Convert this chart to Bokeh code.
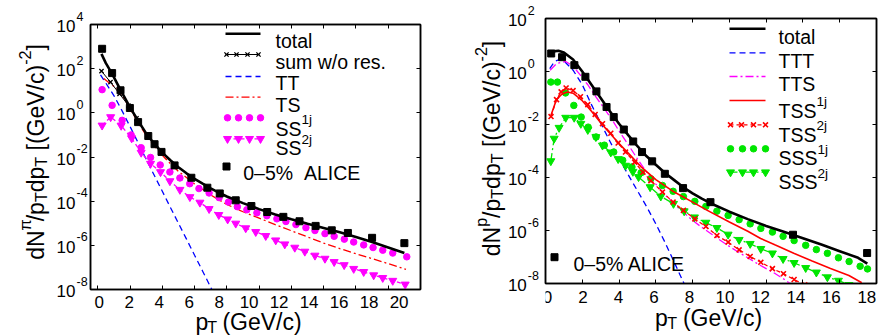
import math
from bokeh.plotting import figure
from bokeh.models import Label, FixedTicker, LinearAxis, LogAxis, Range1d, CustomJSTickFormatter
from bokeh.layouts import row, column
from bokeh.embed import file_html
from bokeh.resources import INLINE

FONT = "Liberation Sans"

# ------------------------------------------------------------------
# DATA (y values stored as log10)
# ------------------------------------------------------------------
# ---- pion panel ----
pi_alice_pt = [0.27, 0.89, 1.41, 1.99, 2.5, 3.13, 3.52, 3.95, 4.76, 5.8, 6.79, 7.56, 8.55,
               9.52, 10.5, 11.5, 12.5, 13.5, 14.5, 15.5, 17.0, 19.0]
pi_alice_log = [2.9, 1.8, 1.02, 0.22, -0.42, -1.05, -1.42, -1.77, -2.38, -2.94, -3.39, -3.65,
                -3.96, -4.22, -4.49, -4.71, -4.91, -5.12, -5.32, -5.44, -5.66, -5.9]

pi_total_pt = [0.23, 0.5, 0.9, 1.4, 2.0, 2.5, 3.0, 3.5, 4.0, 4.5, 5.0, 5.5, 6.0, 6.5, 7.0, 7.5,
               8.0, 9.0, 10.0, 11.0, 12.0, 13.0, 14.0, 15.0, 16.0, 17.0, 18.0, 19.0]
pi_total_log = [2.67, 2.25, 1.75, 1.05, 0.25, -0.36, -0.93, -1.4, -1.8, -2.15, -2.46, -2.74,
                -2.99, -3.21, -3.42, -3.61, -3.79, -4.09, -4.36, -4.6, -4.82, -5.02, -5.21,
                -5.41, -5.62, -5.85, -6.1, -6.35]

pi_nores_pt = [0.23, 0.79, 1.35, 1.9, 2.4]
pi_nores_log = [1.89, 1.39, 0.86, 0.33, -0.25]

pi_tt_pt = [0.17, 0.5, 1.0, 1.5, 2.0, 2.5, 3.0, 3.5, 4.0, 4.5, 5.0, 5.5, 6.0, 6.5, 7.0, 7.3]
pi_tt_log = [1.72, 1.35, 0.78, 0.1, -0.62, -1.35, -2.1, -2.83, -3.55, -4.28, -5.0, -5.72,
             -6.45, -7.17, -7.9, -8.35]

pi_ts_pt = [0.37, 0.8, 1.2, 1.5, 2.0, 2.5, 3.0, 3.5, 4.0, 4.5, 5.0, 6.0, 7.0, 8.0, 9.0, 10.0,
            11.0, 12.0, 13.0, 14.0, 15.0, 16.0, 17.0, 18.0, 19.1]
pi_ts_log = [1.55, 1.3, 1.1, 0.82, 0.2, -0.45, -1.02, -1.5, -1.92, -2.3, -2.65, -3.22, -3.72,
             -4.15, -4.48, -4.77, -5.06, -5.34, -5.62, -5.9, -6.15, -6.38, -6.6, -6.83, -7.09]

pi_ss1_pt = [0.27, 0.89, 1.51, 2.07, 2.69, 3.27, 3.87, 4.47, 5.09, 5.7, 6.27, 6.9, 7.52, 8.1,
             8.65, 9.24, 9.86, 10.48, 11.1, 11.66, 12.28, 12.9, 13.46, 14.08, 14.65, 15.28,
             15.86, 16.48, 17.06, 17.66, 18.28, 19.15]
pi_ss1_log = [1.05, 0.34, -0.34, -1.0, -1.58, -2.02, -2.36, -2.68, -2.95, -3.21, -3.43, -3.63,
              -3.84, -4.04, -4.25, -4.39, -4.53, -4.66, -4.8, -4.92, -5.06, -5.2, -5.33, -5.47,
              -5.59, -5.72, -5.85, -5.98, -6.1, -6.22, -6.35, -6.52]

pi_ss2_pt = [0.27, 0.8, 1.45, 2.1, 2.69, 3.27, 3.89, 4.47, 5.09, 5.71, 6.33, 6.9, 7.5, 8.05,
             8.55, 9.17, 9.79, 10.41, 11.03, 11.59, 12.21, 12.83, 13.46, 14.08, 14.65, 15.27,
             15.86, 16.48, 17.1, 17.66, 18.28, 19.05]
pi_ss2_log = [-0.57, -0.19, -0.58, -1.15, -1.8, -2.3, -2.68, -3.09, -3.48, -3.81, -4.06, -4.35,
              -4.62, -4.82, -5.01, -5.22, -5.39, -5.57, -5.77, -5.95, -6.1, -6.28, -6.46, -6.6,
              -6.75, -6.89, -7.06, -7.2, -7.35, -7.47, -7.6, -7.77]

# ---- proton panel ----
p_alice_pt = [0.31, 0.9, 1.57, 2.17, 2.77, 3.32, 3.71, 4.26, 4.77, 5.25, 5.8, 6.49, 7.48, 8.97,
              13.46, 17.49]
p_alice_log = [0.68, 0.54, 0.24, -0.2, -0.75, -1.34, -1.72, -2.19, -2.64, -3.04, -3.39, -3.86,
               -4.4, -4.93, -6.16, -6.85]

p_total_pt = [0.2, 0.45, 0.7, 1.0, 1.5, 2.0, 2.5, 3.0, 3.5, 4.0, 4.5, 5.0, 5.5, 6.0, 6.5, 7.0,
              7.5, 8.0, 8.5, 9.0, 10.0, 11.0, 12.0, 13.0, 14.0, 15.0, 16.0, 17.0, 17.5]
p_total_log = [0.7, 0.76, 0.78, 0.72, 0.45, 0.0, -0.5, -1.0, -1.5, -1.97, -2.4, -2.82, -3.2,
               -3.52, -3.83, -4.1, -4.37, -4.6, -4.8, -4.98, -5.29, -5.57, -5.83, -6.06, -6.29,
               -6.53, -6.78, -7.03, -7.25]

p_ttt_pt = [0.23, 0.5, 0.75, 1.0, 1.5, 2.0, 2.5, 3.0, 3.5, 4.0, 4.5, 5.0, 5.5, 6.0, 6.5, 7.0, 7.6]
p_ttt_log = [0.11, 0.38, 0.45, 0.4, 0.05, -0.5, -1.25, -1.95, -2.63, -3.3, -3.9, -4.5, -5.1,
             -5.75, -6.45, -7.2, -8.1]

p_tts_pt = [0.25, 0.6, 1.1, 1.5, 1.83, 2.3, 2.74, 3.2, 3.64, 4.05, 4.46, 5.0, 5.5, 6.0, 6.5,
            7.0, 7.5, 8.0, 8.5, 9.0, 9.5, 10.0, 10.5, 11.0, 11.5, 12.0, 12.5, 13.0, 13.3]
p_tts_log = [0.05, 0.3, 0.38, 0.2, -0.08, -0.5, -0.96, -1.4, -1.84, -2.3, -2.72, -3.3, -3.8,
             -4.25, -4.65, -5.0, -5.32, -5.62, -5.88, -6.12, -6.37, -6.6, -6.82, -7.03, -7.24,
             -7.44, -7.63, -7.85, -8.0]

p_tss1_pt = [0.3, 0.6, 0.9, 1.2, 1.5, 2.0, 2.5, 3.0, 3.5, 4.0, 4.5, 5.2, 6.0, 7.0, 8.0, 8.8,
             10.0, 11.0, 11.7, 12.5, 13.5, 14.5, 15.5, 16.5, 17.2]
p_tss1_log = [-1.65, -1.05, -0.85, -0.77, -0.82, -1.1, -1.5, -1.93, -2.33, -2.72, -3.08, -3.6,
              -4.08, -4.55, -4.93, -5.24, -5.68, -6.03, -6.3, -6.55, -6.86, -7.15, -7.43,
              -7.7, -7.97]

p_tss2_pt = [0.3, 0.6, 0.85, 1.12, 1.5, 1.9, 2.3, 2.7, 3.1, 3.55, 3.95, 4.35, 4.85, 5.3, 5.73,
             6.36, 6.94, 7.5, 8.12, 8.72, 9.32, 9.93, 10.53, 11.13, 11.71, 12.34, 12.94,
             13.52, 14.1]
p_tss2_log = [-1.7, -1.06, -0.77, -0.62, -0.72, -0.95, -1.25, -1.62, -1.97, -2.33, -2.7,
              -3.04, -3.42, -3.8, -4.12, -4.55, -4.93, -5.24, -5.56, -5.85, -6.19, -6.44,
              -6.73, -6.98, -7.2, -7.44, -7.63, -7.85, -8.05]

p_sss1_pt = [0.29, 0.65, 1.09, 1.54, 1.94, 2.32, 2.75, 3.2, 3.71, 4.2, 4.7, 5.2, 5.73, 6.36,
             6.94, 7.5, 8.12, 8.72, 9.32, 9.93, 10.53, 11.13, 11.71, 12.34, 12.92, 13.52,
             14.15, 14.73, 15.33, 15.93, 16.51, 17.11, 17.51]
p_sss1_log = [-0.4, -0.4, -0.81, -1.28, -1.72, -2.1, -2.47, -2.78, -3.04, -3.35, -3.6, -3.82,
              -4.05, -4.3, -4.52, -4.72, -4.9, -5.09, -5.27, -5.43, -5.59, -5.75, -5.92, -6.06,
              -6.22, -6.38, -6.56, -6.72, -6.86, -7.03, -7.17, -7.35, -7.45]

p_sss2_pt = [0.29, 0.47, 0.74, 1.1, 1.56, 1.92, 2.3, 2.74, 3.1, 3.55, 3.95, 4.35, 4.75, 5.06,
             5.69, 6.27, 6.96, 7.54, 8.1, 8.72, 9.32, 9.93, 10.53, 11.13, 11.71, 12.34, 12.92,
             13.52, 14.15, 14.73, 15.33, 15.93, 16.5]
p_sss2_log = [-3.38, -2.53, -2.12, -1.74, -1.74, -1.97, -2.2, -2.47, -2.79, -3.05, -3.3, -3.55,
              -3.78, -3.98, -4.36, -4.71, -4.99, -5.27, -5.5, -5.7, -5.9, -6.15, -6.35, -6.5,
              -6.69, -6.86, -7.07, -7.22, -7.41, -7.58, -7.76, -7.89, -8.05]

pi_xticks = [0, 2, 4, 6, 8, 10, 12, 14, 16, 18, 20]
p_xticks = [0, 2, 4, 6, 8, 10, 12, 14, 16, 18]
pi_ydecades = [4, 2, 0, -2, -4, -6, -8]
p_ydecades = [2, 0, -2, -4, -6, -8]

# ------------------------------------------------------------------
BLUE, RED, MAG, GREEN = "#0000ff", "#ff0000", "#ff00ff", "#00e600"
LEG, AX, TICK = 19.5, 23.0, 17

W = {'d': 556, 'N': 722, 'π': 570, 'p': 556, '/': 278, 'T': 611, ' ': 278, '[': 278, '(': 333,
     'G': 778, 'e': 556, 'V': 667, 'c': 500, ')': 333, ']': 278, '−': 584, '-': 333, '2': 556,
     '1': 556, 'j': 222, 'S': 667, 't': 278, 'o': 556, 'a': 556, 'l': 222, 's': 500, 'u': 556,
     'm': 833, 'w': 722, 'r': 333, '.': 278, '0': 556, '–': 556, '5': 556, '%': 889, 'A': 667,
     'L': 556, 'I': 278, 'C': 722, 'E': 667}


def tw(s, size):
    return sum(W.get(ch, 556) for ch in s) / 1000.0 * size


def blank_fmt():
    return CustomJSTickFormatter(code="return '';")


def bare_fig(w, h, xr, yr, ylog=False):
    f = figure(width=w, height=h, x_range=xr, y_range=yr,
               y_axis_type="log" if ylog else "linear",
               x_axis_location=None, y_axis_location=None, min_border=0,
               output_backend="svg", toolbar_location=None,
               background_fill_color="white", border_fill_color="white")
    f.outline_line_color = None
    f.grid.visible = False
    return f


def add_label(fig, x, y, text, size, align="left", baseline="alphabetic", angle=0.0,
              y_offset=0.0):
    fig.add_layout(Label(x=x, y=y, x_units="data", y_units="data", text=text, text_font=FONT,
                         text_font_size=f"{size:.1f}px", text_color="black", text_align=align,
                         text_baseline=baseline, angle=angle, y_offset=y_offset))


class Panel:
    """One sub-plot: left strip (y tick labels + y title), main plot, bottom strip."""

    def __init__(self, off, L, R, T, B, xr, dec, left_w):
        self.L, self.R, self.T, self.B, self.xr, self.dec = L, R, T, B, xr, dec
        self.ppu = (R - L) / (xr[1] - xr[0])
        self.ppd = (B - T) / (dec[1] - dec[0])
        main_w = 443 - left_w
        main_h = B + 4
        self.p = figure(width=main_w, height=main_h, x_range=Range1d(*xr),
                        y_range=Range1d(10 ** dec[0], 10 ** dec[1]), y_axis_type="log",
                        output_backend="svg", toolbar_location=None,
                        min_border_left=L - off - left_w, min_border_right=off + 443 - R,
                        min_border_top=T, min_border_bottom=main_h - B,
                        background_fill_color="white", border_fill_color="white")
        self.left = bare_fig(left_w, 336, Range1d(off, off + left_w),
                             Range1d(10 ** (dec[0] - (336 - B) / self.ppd),
                                     10 ** (dec[1] + T / self.ppd)), ylog=True)
        x0 = off + left_w
        self.bottom = bare_fig(main_w, 336 - main_h,
                               Range1d(self.xd(x0), self.xd(x0 + main_w)), Range1d(336, main_h))
        self.layout = row(self.left, column(self.p, self.bottom))

    def xd(self, px):
        return self.xr[0] + (px - self.L) / self.ppu

    def yd(self, py):
        return 10 ** (self.dec[1] - (py - self.T) / self.ppd)

    def rich(self, fig, fx, fy, px, py, runs, size, align="left", vertical=False):
        sc = {"n": 1.0, "sup": 0.7, "sub": 0.7}
        sh = {"n": 0.0, "sup": 0.45, "sub": -0.22}
        widths = [tw(t, size * sc[k]) for t, k in runs]
        acc = -sum(widths) / 2 if align == "center" else 0.0
        for (t, k), w in zip(runs, widths):
            lead = len(t) - len(t.lstrip(" "))
            a = acc + tw(" " * lead, size * sc[k])
            txt = t.strip(" ")
            if txt:
                if vertical:
                    add_label(fig, fx(px - sh[k] * size), fy(py - a), txt, size * sc[k],
                              angle=math.pi / 2)
                else:
                    add_label(fig, fx(px + a), fy(py - sh[k] * size), txt, size * sc[k])
            acc += w

    def leg_text(self, px, py, runs):
        self.rich(self.p, self.xd, self.yd, px, py, runs, LEG)

    def curve(self, xs, logs, **kw):
        self.p.line(xs, [10 ** v for v in logs], **kw)

    def marks(self, xs, logs, **kw):
        self.p.scatter(xs, [10 ** v for v in logs], **kw)

    def leg_line(self, x0, x1, y, **kw):
        self.p.line([self.xd(x0), self.xd(x1)], [self.yd(y)] * 2, **kw)

    def leg_marks(self, xs, y, **kw):
        self.p.scatter([self.xd(x) for x in xs], [self.yd(y)] * len(xs), **kw)

    def axes(self, xticks, decades, label_top, ylab_x, ylab_y, ylab_runs, xlab_y, tick_right):
        p = self.p
        p.grid.visible = False
        p.outline_line_color = "black"
        p.outline_line_width = 1.5
        xa, ya = p.below[0], p.left[0]
        xa.ticker = FixedTicker(ticks=xticks)
        ya.ticker = FixedTicker(ticks=[10.0 ** e for e in decades])
        top = LinearAxis(ticker=FixedTicker(ticks=xticks))
        right = LogAxis(ticker=FixedTicker(ticks=[10.0 ** e for e in decades]))
        p.add_layout(top, "above")
        p.add_layout(right, "right")
        for ax in (xa, ya, top, right):
            ax.formatter = blank_fmt()
            ax.major_label_text_font_size = "1px"
            ax.major_label_standoff = 0
            ax.major_tick_in = 4
            ax.major_tick_out = 0
            ax.minor_tick_line_color = None
            ax.axis_line_width = 1.5
            ax.axis_line_color = "black"
            ax.major_tick_line_color = "black"
        for t in xticks:
            add_label(self.bottom, t, label_top, str(t), TICK, align="center", baseline="top")
        for e in decades:
            add_label(self.left, tick_right, 10.0 ** e, "10", TICK, align="right",
                      baseline="middle", y_offset=-1.5)
            add_label(self.left, tick_right + 1.0, 10.0 ** e, str(e), 12.5,
                      baseline="middle", y_offset=8.5)
        self.rich(self.bottom, self.xd, lambda v: v, (self.L + self.R) / 2, xlab_y,
                  [("p", "n"), ("T", "sub"), (" (GeV/c)", "n")], AX, align="center")
        self.rich(self.left, lambda v: v, self.yd, ylab_x, ylab_y, ylab_runs, AX,
                  align="center", vertical=True)


# ------------------------------------------------------------------
# pion panel
# ------------------------------------------------------------------
A = Panel(0, 90, 420, 24, 289, (-0.45, 20), (-8, 4), 88)
A.curve(pi_tt_pt, pi_tt_log, line_color=BLUE, line_width=1.3, line_dash="6 4")
A.curve(pi_ts_pt, pi_ts_log, line_color=RED, line_width=1.3, line_dash="8 3 2 3")
A.curve(pi_ss2_pt, pi_ss2_log, line_color=MAG, line_width=1.3, line_dash="4 3")
A.marks(pi_ss2_pt, pi_ss2_log, marker="inverted_triangle", size=8, color=MAG)
A.marks(pi_ss1_pt, pi_ss1_log, marker="circle", size=6.5, color=MAG)
A.curve(pi_nores_pt, pi_nores_log, line_color="black", line_width=1.0)
A.marks(pi_nores_pt, pi_nores_log, marker="x", size=6, line_color="black", line_width=1.3)
A.curve(pi_total_pt, pi_total_log, line_color="black", line_width=2.6)
A.marks(pi_alice_pt, pi_alice_log, marker="square", size=7, color="black")

A.leg_line(225, 260, 33.3, line_color="black", line_width=2.6)
A.leg_line(225, 259, 54, line_color="black", line_width=1.0)
A.leg_marks([226, 236, 247, 258], 54, marker="x", size=6, line_color="black", line_width=1.3)
A.leg_line(225, 260, 76, line_color=BLUE, line_width=1.3, line_dash="6 4")
A.leg_line(225, 260, 96.7, line_color=RED, line_width=1.3, line_dash="8 3 2 3")
A.leg_marks([227, 238, 249, 260], 117.3, marker="circle", size=6.5, color=MAG)
A.leg_line(226, 260, 138.3, line_color=MAG, line_width=1.3, line_dash="4 3")
A.leg_marks([227, 238, 249, 260], 138.3, marker="inverted_triangle", size=8, color=MAG)
A.leg_marks([226], 166, marker="square", size=7, color="black")
A.leg_text(275, 40.7, [("total", "n")])
A.leg_text(275, 61.5, [("sum w/o res.", "n")])
A.leg_text(275, 82.7, [("TT", "n")])
A.leg_text(275, 104, [("TS", "n")])
A.leg_text(275, 128, [("SS", "n"), ("1j", "sup")])
A.leg_text(275, 147.5, [("SS", "n"), ("2j", "sup")])
A.leg_text(242.7, 172.7, [("0–5%", "n"), ("  ALICE", "n")])

A.axes(pi_xticks, pi_ydecades, 295, 35, 151.5,
       [("dN", "n"), ("π", "sup"), ("/p", "n"), ("T", "sub"), ("dp", "n"), ("T", "sub"),
        (" [(GeV/c)", "n"), ("-2", "sup"), ("]", "n")], 321, 75)

# ------------------------------------------------------------------
# proton panel
# ------------------------------------------------------------------
B = Panel(443, 545, 876, 18, 283, (0, 18), (-8, 2), 100)
B.curve(p_ttt_pt, p_ttt_log, line_color=BLUE, line_width=1.3, line_dash="6 4")
B.curve(p_tts_pt, p_tts_log, line_color=MAG, line_width=1.3, line_dash="8 3 2 3")
B.curve(p_sss2_pt, p_sss2_log, line_color=GREEN, line_width=1.3, line_dash="8 3 2 3")
B.marks(p_sss2_pt, p_sss2_log, marker="inverted_triangle", size=8, color=GREEN)
B.marks(p_sss1_pt, p_sss1_log, marker="circle", size=6.5, color=GREEN)
B.curve(p_tss2_pt, p_tss2_log, line_color=RED, line_width=1.3, line_dash="4 3")
B.marks(p_tss2_pt, p_tss2_log, marker="x", size=7, line_color=RED, line_width=1.6)
B.curve(p_tss1_pt, p_tss1_log, line_color=RED, line_width=1.6)
B.curve(p_total_pt, p_total_log, line_color="black", line_width=2.6)
B.marks(p_alice_pt, p_alice_log, marker="square", size=7, color="black")

B.leg_line(729, 765, 28.3, line_color="black", line_width=2.6)
B.leg_line(729, 765, 52.3, line_color=BLUE, line_width=1.3, line_dash="6 4")
B.leg_line(729, 765, 76, line_color=MAG, line_width=1.3, line_dash="8 3 2 3")
B.leg_line(729, 765, 100, line_color=RED, line_width=1.6)
B.leg_line(729, 765, 124.3, line_color=RED, line_width=1.3, line_dash="4 3")
B.leg_marks([730, 741, 753, 765], 124.3, marker="x", size=7, line_color=RED, line_width=1.6)
B.leg_marks([730, 742, 753, 765], 148.3, marker="circle", size=6.5, color=GREEN)
B.leg_line(729, 765, 171.7, line_color=GREEN, line_width=1.3, line_dash="8 3 2 3")
B.leg_marks([730, 742, 753, 765], 171.7, marker="inverted_triangle", size=8, color=GREEN)
B.leg_marks([554], 256.7, marker="square", size=7, color="black")
B.leg_text(778, 36, [("total", "n")])
B.leg_text(778, 60, [("TTT", "n")])
B.leg_text(778, 83.3, [("TTS", "n")])
B.leg_text(778, 110, [("TSS", "n"), ("1j", "sup")])
B.leg_text(778, 134, [("TSS", "n"), ("2j", "sup")])
B.leg_text(778, 157.3, [("SSS", "n"), ("1j", "sup")])
B.leg_text(778, 181.7, [("SSS", "n"), ("2j", "sup")])
B.leg_text(573, 263.3, [("0–5% ALICE", "n")])

B.axes(p_xticks, p_ydecades, 290, 491, 148,
       [("dN", "n"), ("p", "sup"), ("/p", "n"), ("T", "sub"), ("dp", "n"), ("T", "sub"),
        (" [(GeV/c)", "n"), ("-2", "sup"), ("]", "n")], 317, 526.3)

layout = row(A.layout, B.layout)
open("out.html", "w").write(file_html(layout, INLINE))
